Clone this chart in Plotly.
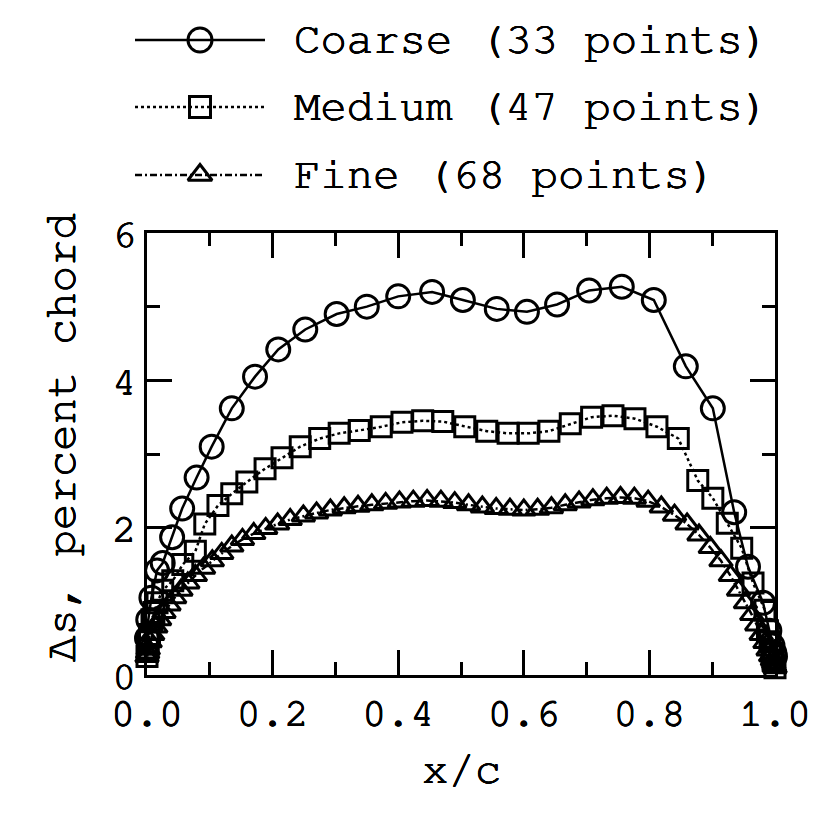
import plotly.graph_objects as go

# ---------------- data ----------------
coarse_x = [0.0, 0.002, 0.007, 0.016, 0.025, 0.040, 0.056, 0.079, 0.103, 0.135, 0.172,
            0.209, 0.252, 0.302, 0.350, 0.400, 0.454, 0.503, 0.557, 0.605, 0.653, 0.704,
            0.756, 0.807, 0.858, 0.901, 0.935, 0.957, 0.981, 0.991, 0.996, 0.999, 1.0]
coarse_y = [0.50, 0.75, 1.05, 1.42, 1.52, 1.87, 2.26, 2.68, 3.10, 3.62, 4.05,
            4.42, 4.69, 4.90, 5.00, 5.14, 5.20, 5.09, 4.97, 4.93, 5.03, 5.22,
            5.27, 5.09, 4.19, 3.62, 2.21, 1.47, 0.98, 0.60, 0.40, 0.30, 0.25]

medium_x = [0.0, 0.001, 0.002, 0.004, 0.008, 0.011, 0.016, 0.025, 0.041, 0.057, 0.077,
            0.092, 0.113, 0.135, 0.159, 0.188, 0.215, 0.244, 0.275, 0.306, 0.338, 0.373,
            0.406, 0.439, 0.471, 0.506, 0.541, 0.575, 0.607, 0.640, 0.674, 0.708, 0.742,
            0.777, 0.812, 0.846, 0.877, 0.901, 0.924, 0.947, 0.965, 0.984, 0.988, 0.992,
            0.995, 0.997, 1.0]
medium_y = [0.25, 0.35, 0.45, 0.55, 0.75, 0.85, 0.98, 1.15, 1.28, 1.50, 1.68,
            2.05, 2.30, 2.46, 2.62, 2.80, 2.95, 3.10, 3.21, 3.28, 3.32, 3.37,
            3.43, 3.45, 3.44, 3.37, 3.31, 3.28, 3.28, 3.31, 3.41, 3.50, 3.52,
            3.48, 3.37, 3.21, 2.64, 2.40, 2.06, 1.72, 1.25, 0.88, 0.60, 0.45,
            0.30, 0.20, 0.10]

fine_x = [0.0, 0.001, 0.002, 0.005, 0.009, 0.014, 0.020, 0.027, 0.035, 0.044, 0.054,
          0.065, 0.077, 0.090, 0.104, 0.119, 0.135, 0.152, 0.170, 0.189, 0.208, 0.228,
          0.249, 0.270, 0.292, 0.314, 0.336, 0.358, 0.380, 0.402, 0.424, 0.446, 0.468,
          0.490, 0.512, 0.534, 0.556, 0.578, 0.600, 0.622, 0.644, 0.666, 0.688, 0.710,
          0.732, 0.754, 0.776, 0.798, 0.819, 0.840, 0.860, 0.879, 0.897, 0.914, 0.929,
          0.942, 0.953, 0.963, 0.971, 0.978, 0.984, 0.989, 0.993, 0.996, 0.998, 0.999,
          0.9995, 1.0]
fine_y = [0.25, 0.30, 0.35, 0.45, 0.55, 0.65, 0.75, 0.85, 0.95, 1.05, 1.15,
          1.25, 1.35, 1.45, 1.55, 1.65, 1.75, 1.84, 1.92, 1.99, 2.05, 2.11,
          2.16, 2.20, 2.24, 2.27, 2.29, 2.31, 2.33, 2.35, 2.36, 2.37, 2.36,
          2.34, 2.31, 2.28, 2.26, 2.25, 2.24, 2.25, 2.27, 2.31, 2.35, 2.38,
          2.40, 2.41, 2.40, 2.36, 2.28, 2.17, 2.05, 1.90, 1.73, 1.55, 1.35,
          1.15, 0.98, 0.82, 0.68, 0.55, 0.44, 0.34, 0.26, 0.20, 0.16, 0.13,
          0.11, 0.10]

series_names = ["Coarse (33 points)", "Medium (47 points)", "Fine (68 points)"]
x_ticks = [0.0, 0.2, 0.4, 0.6, 0.8, 1.0]
y_ticks = [0, 2, 4, 6]

# ---------------- style ----------------
FONT = "Nimbus Mono PS, FreeMono, Courier New, Courier, Liberation Mono, monospace"
SHADOW = "0.45px 0 0 black, -0.45px 0 0 black, 0 0.45px 0 black, 0 -0.45px 0 black"
W, H = 822, 813
PL, PR, PT, PB = 147, 775, 233, 675  # plot box in pixels


def tfont(size):
    return dict(family=FONT, size=size, color="black", shadow=SHADOW)


styles = [
    dict(symbol="circle-open", size=23, dash="solid"),
    dict(symbol="square-open", size=20, dash="dot"),
    dict(symbol="triangle-up-open", size=20, dash="7px,3px,2px,3px"),
]

fig = go.Figure()
for (xs, ys), st, name in zip([(coarse_x, coarse_y), (medium_x, medium_y), (fine_x, fine_y)],
                              styles, series_names):
    fig.add_trace(go.Scatter(
        x=xs, y=ys, mode="lines+markers", name=name, showlegend=False,
        line=dict(color="black", width=2.5, dash=st["dash"]),
        marker=dict(symbol=st["symbol"], size=st["size"], color="black",
                    line=dict(color="black", width=3)),
        xaxis="x", yaxis="y", cliponaxis=False,
    ))

# custom legend (long line samples) drawn on an overlay axis in pixel units
leg_rows = [40, 107, 175]
for row, st, name in zip(leg_rows, styles, series_names):
    fig.add_trace(go.Scatter(
        x=[135, 265], y=[row, row], mode="lines", showlegend=False,
        line=dict(color="black", width=2.5, dash=st["dash"]),
        xaxis="x2", yaxis="y2", hoverinfo="skip"))
    fig.add_trace(go.Scatter(
        x=[200], y=[row], mode="markers", showlegend=False,
        marker=dict(symbol=st["symbol"], size=st["size"] + 1, color="black",
                    line=dict(color="black", width=3)),
        xaxis="x2", yaxis="y2", hoverinfo="skip"))
    fig.add_annotation(x=292, y=row, xref="x2", yref="y2", text=name,
                       showarrow=False, xanchor="left", yanchor="middle",
                       font=tfont(44))

axis_common = dict(
    showgrid=False, zeroline=False, showline=True, linecolor="black", linewidth=2.5,
    mirror="ticks", ticks="inside", tickcolor="black", tickwidth=2.5, ticklen=25,
    tickfont=tfont(40), automargin=False,
)

fig.update_layout(
    width=W, height=H,
    margin=dict(l=0, r=0, t=0, b=0, pad=0, autoexpand=False),
    showlegend=False,
    paper_bgcolor="white", plot_bgcolor="rgba(0,0,0,0)",
    xaxis=dict(
        domain=[PL / W, PR / W], range=[0, 1], tickvals=x_ticks,
        ticktext=[f"{v:.1f}" for v in x_ticks], anchor="y",
        minor=dict(dtick=0.1, ticks="inside", ticklen=13, tickwidth=2.5, tickcolor="black"),
        **axis_common,
    ),
    yaxis=dict(
        domain=[1 - PB / H, 1 - PT / H], range=[0, 6], tickvals=y_ticks, anchor="x",
        minor=dict(dtick=1, ticks="inside", ticklen=13, tickwidth=2.5, tickcolor="black"),
        **axis_common,
    ),
    xaxis2=dict(domain=[0, 1], range=[0, W], visible=False, anchor="y2",
                fixedrange=True, automargin=False),
    yaxis2=dict(domain=[0, 1], range=[H, 0], visible=False, anchor="x2",
                fixedrange=True, automargin=False),
)

fig.add_annotation(x=(PL + PR) / 2 / W, y=1 - 770 / H, xref="paper", yref="paper",
                   text="x/c", showarrow=False, xanchor="center", yanchor="middle",
                   font=tfont(44))
fig.add_annotation(x=62 / W, y=1 - 438 / H, xref="paper", yref="paper",
                   text="Δs, percent chord", showarrow=False, textangle=-90,
                   xanchor="center", yanchor="middle",
                   font=tfont(44))

fig.write_html("out.html")
